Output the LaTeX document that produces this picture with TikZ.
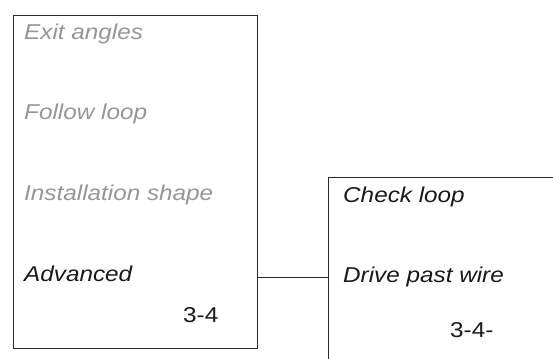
\documentclass[tikz,border=0pt]{standalone}
\usepackage{fontspec}
\setmainfont{Liberation Sans}
\definecolor{gtxt}{RGB}{150,150,150}
\definecolor{dtxt}{RGB}{25,25,25}
\definecolor{bline}{RGB}{40,40,40}
\newcommand{\lbl}[1]{\scalebox{1.13}[1]{\fontsize{21.5}{25}\selectfont #1}}
\tikzset{
  panel/.style={draw=bline, line width=1pt, anchor=north west, inner sep=0pt},
  graytext/.style={anchor=base west, inner sep=0pt, text=gtxt, font=\itshape},
  darktext/.style={anchor=base west, inner sep=0pt, text=dtxt, font=\itshape},
  numtext/.style={anchor=base west, inner sep=0pt, text=dtxt},
  link/.style={draw=bline, line width=1pt}
}
\begin{document}
\begin{tikzpicture}[x=1pt,y=-1pt]
\useasboundingbox (0,0) rectangle (553,358);
\clip (0,0) rectangle (553,358);
\node[panel, minimum width=244pt, minimum height=333pt] (L) at (13,15) {};
\node[panel, minimum width=240pt, minimum height=200pt] (R) at (328,177) {};
\node[graytext] (t1) at (24,40) {\lbl{Exit angles}};
\node[graytext] (t2) at (24,120) {\lbl{Follow loop}};
\node[graytext] (t3) at (24,200) {\lbl{Installation shape}};
\node[darktext] (t4) at (24,281) {\lbl{Advanced}};
\node[numtext] (n1) at (183,322) {\lbl{3-4}};
\node[darktext] (r1) at (343,202) {\lbl{Check loop}};
\node[darktext] (r2) at (343,282) {\lbl{Drive past wire}};
\node[numtext] (n2) at (450,337) {\lbl{3-4-}};
\coordinate (c1) at (L.east |- 0,277);
\coordinate (c2) at (R.west |- 0,277);
\draw[link] (c1) -- (c2);
\end{tikzpicture}
\end{document}
